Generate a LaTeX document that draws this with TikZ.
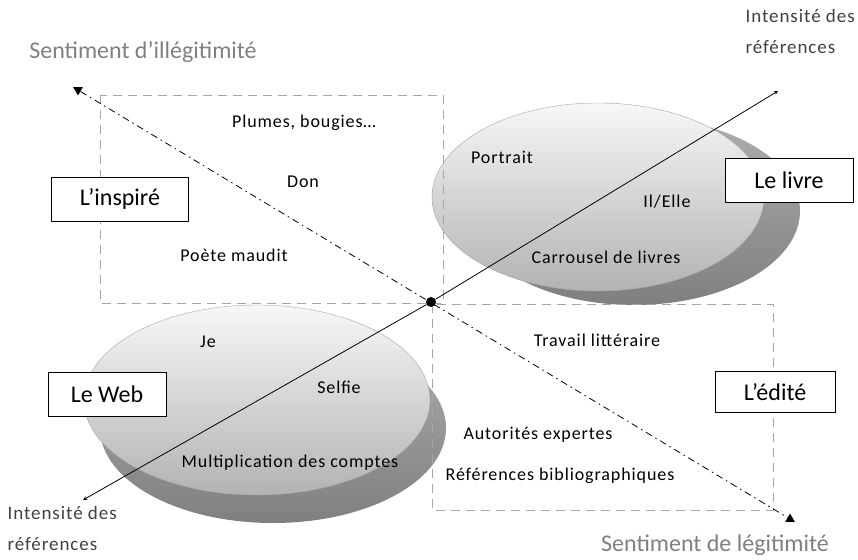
\documentclass[tikz,border=0pt]{standalone}
\usepackage{fontspec}
\setmainfont{Carlito}
\newfontfamily\spreadfont[LetterSpace=5]{Carlito}
\usepackage{tikz}
\usetikzlibrary{shapes.geometric,arrows}

\begin{document}
\begin{tikzpicture}[x=1pt,y=-1pt,
  lbl/.style={font=\spreadfont\fontsize{18}{21}\selectfont},
  axislbl/.style={font=\spreadfont\fontsize{19}{31}\selectfont,text=black!75,align=left,anchor=west},
  feeling/.style={font=\fontsize{24}{28}\selectfont,text=black!50},
  pole/.style={draw,fill=white,thick,font=\fontsize{24}{28}\selectfont,minimum height=44pt},
  zone/.style={draw=black!35,thick,dash pattern=on 9pt off 6pt},
  tip/.style={regular polygon,regular polygon sides=3,fill=black,inner sep=0pt,minimum size=11pt}]
  \useasboundingbox (0,0) rectangle (858,559);
  % disques
  \shade[top color=black!32,bottom color=black!50] (634,211) ellipse [x radius=166pt,y radius=94pt];
  \shade[top color=black!3,bottom color=black!30,draw=black!35] (598,197) ellipse [x radius=166pt,y radius=94pt];
  \shade[top color=black!32,bottom color=black!50] (273,428) ellipse [x radius=173pt,y radius=95pt];
  \shade[top color=black!3,bottom color=black!30,draw=black!35] (257,400) ellipse [x radius=173pt,y radius=95pt];
  % zones
  \draw[zone] (100,95) rectangle (443,303);
  \draw[zone] (432,304) rectangle (773,510);
  % axes
  \node (illeg) [tip,shape border rotate=180] at (78,90) {};
  \node (leg) [tip] at (790,519) {};
  \draw[thick,dash pattern=on 7pt off 4pt on 1.5pt off 4pt] (illeg) -- (leg);
  \node (o) [circle,fill=black,inner sep=0pt,minimum size=10pt] at (431,302) {};
  \coordinate (refhi) at (778,91);
  \coordinate (reflo) at (83,500);
  \path[-stealth,thick]
  (o) edge (refhi)
  edge (reflo);
  % libelles des axes
  \node (feelill) [feeling] at (143,52) {Sentiment d’illégitimité};
  \node (feelleg) [feeling] at (715,545) {Sentiment de légitimité};
  \node (refup) [axislbl] at (742,31) {Intensité des\\références};
  \node (refdown) [axislbl] at (4,528) {Intensité des\\références};
  % poles
  \node (inspire) [pole,minimum width=137pt] at (120,199) {L’inspiré};
  \node (livre) [pole,minimum width=128pt] at (789,180) {Le livre};
  \node (web) [pole,minimum width=118pt] at (107,394) {Le Web};
  \node (edite) [pole,minimum width=120pt,minimum height=41pt] at (775,392) {L’édité};
  % mots
  \node (plumes) [lbl] at (304,123) {Plumes, bougies…};
  \node (don) [lbl] at (303,182) {Don};
  \node (poete) [lbl] at (234,255) {Poète maudit};
  \node (portrait) [lbl] at (502,157) {Portrait};
  \node (ilelle) [lbl] at (667,202) {Il/Elle};
  \node (carrousel) [lbl] at (606,257) {Carrousel de livres};
  \node (je) [lbl] at (208,342) {Je};
  \node (selfie) [lbl] at (339,387) {Selfie};
  \node (multi) [lbl] at (290,463) {Multiplication des comptes};
  \node (travail) [lbl] at (597,340) {Travail littéraire};
  \node (autorites) [lbl] at (538,435) {Autorités expertes};
  \node (biblio) [lbl] at (560,476) {Références bibliographiques};
\end{tikzpicture}
\end{document}
